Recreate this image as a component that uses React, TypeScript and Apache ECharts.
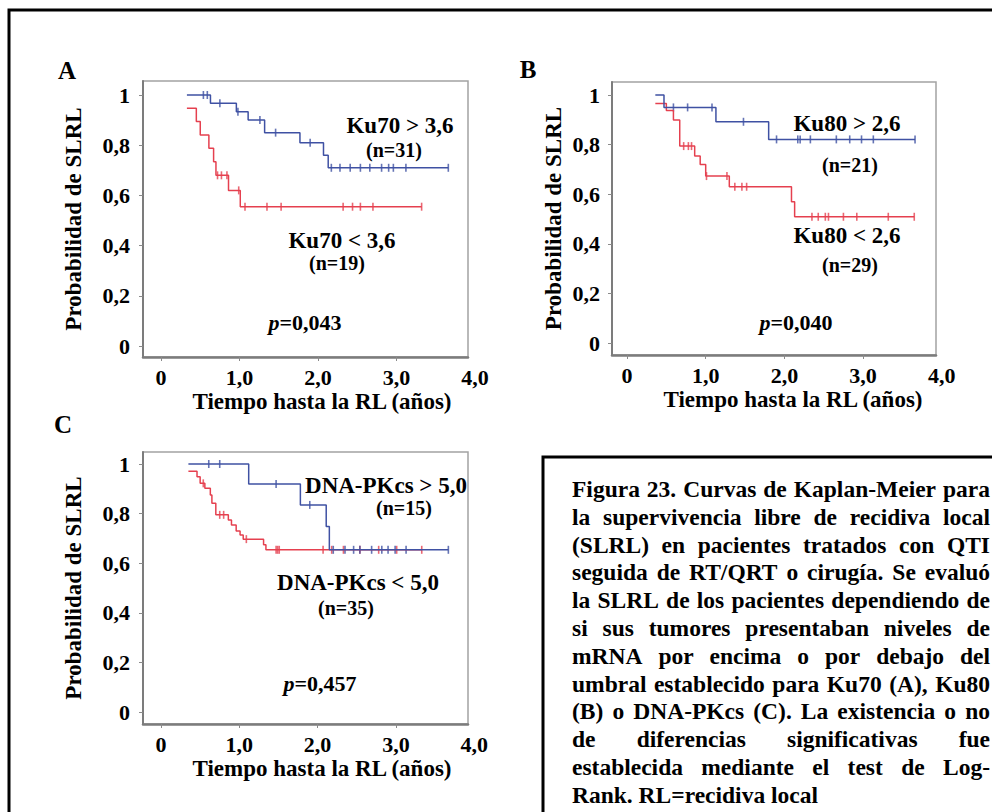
import React, { useEffect, useRef } from "react";
import * as echarts from "echarts";

const FONT = '"Liberation Serif", "Times New Roman", Times, serif';
const BLUE = "#3f51a3";
const RED = "#e5404f";

// ---------- DATA ----------
// Panel A – Ku70
const ku70HighSteps = [[0.33, 1.0], [0.63, 0.967], [0.96, 0.933], [1.11, 0.9], [1.32, 0.85], [1.77, 0.81], [2.07, 0.76], [2.13, 0.71], [3.66, 0.71]];
const ku70HighCensors = [0.54, 0.59, 0.75, 0.98, 1.26, 1.46, 1.9, 2.17, 2.28, 2.41, 2.54, 2.66, 2.81, 2.9, 2.96, 3.12, 3.66];
const ku70LowSteps = [[0.33, 0.947], [0.45, 0.894], [0.5, 0.841], [0.61, 0.788], [0.67, 0.734], [0.7, 0.68], [0.86, 0.62], [1.01, 0.555], [3.32, 0.555]];
const ku70LowCensors = [0.72, 0.77, 0.84, 0.99, 1.07, 1.35, 1.53, 2.32, 2.44, 2.54, 2.7, 3.32];

// Panel B – Ku80
const ku80HighSteps = [[0.36, 1.0], [0.47, 0.95], [1.13, 0.892], [1.8, 0.821], [3.66, 0.821]];
const ku80HighCensors = [0.59, 0.77, 1.08, 1.48, 1.9, 2.17, 2.2, 2.33, 2.66, 2.83, 2.98, 3.13, 3.66];
const ku80LowSteps = [[0.36, 0.966], [0.5, 0.937], [0.59, 0.899], [0.67, 0.794], [0.86, 0.754], [0.93, 0.72], [1.0, 0.673], [1.3, 0.63], [2.09, 0.57], [2.13, 0.509], [3.65, 0.509]];
const ku80LowCensors = [0.72, 0.78, 0.82, 1.01, 1.27, 1.37, 1.46, 1.52, 2.35, 2.43, 2.52, 2.56, 2.75, 2.92, 3.32, 3.65];

// Panel C – DNA-PKcs
const pkcsHighSteps = [[0.35, 1.0], [1.12, 0.919], [1.78, 0.835], [2.11, 0.748], [2.15, 0.654], [3.67, 0.654]];
const pkcsHighCensors = [0.61, 0.75, 1.47, 1.9, 2.2, 2.35, 2.46, 2.54, 2.69, 2.82, 2.9, 2.99, 3.13, 3.67];
const pkcsLowSteps = [[0.35, 0.971], [0.46, 0.949], [0.5, 0.922], [0.56, 0.902], [0.63, 0.875], [0.65, 0.842], [0.7, 0.795], [0.86, 0.774], [0.9, 0.754], [0.96, 0.73], [1.01, 0.714], [1.05, 0.697], [1.31, 0.674], [1.34, 0.654], [3.33, 0.654]];
const pkcsLowCensors = [0.54, 0.75, 0.8, 1.09, 1.47, 1.49, 1.51, 2.07, 2.18, 2.33, 2.54, 2.78, 3.01, 3.33];

const yTicks = [0, 0.2, 0.4, 0.6, 0.8, 1];
const yTickLabels = ["0", "0,2", "0,4", "0,6", "0,8", "1"];
const xTicks = [0, 1, 2, 3, 4];
const xTickLabels = ["0", "1,0", "2,0", "3,0", "4,0"];
const xFrameTicks = [0, 1, 2, 3];

const yAxisTitle = "Probabilidad de SLRL";
const xAxisTitle = "Tiempo hasta la RL (años)";

const captionLines = [
  "Figura 23. Curvas de Kaplan-Meier para",
  "la supervivencia libre de recidiva local",
  "(SLRL) en pacientes tratados con QTI",
  "seguida de RT/QRT o cirugía. Se evaluó",
  "la SLRL de los pacientes dependiendo de",
  "si sus tumores presentaban niveles de",
  "mRNA por encima o por debajo del",
  "umbral establecido para Ku70 (A), Ku80",
  "(B) o DNA-PKcs (C). La existencia o no",
  "de diferencias significativas fue",
  "establecida mediante el test de Log-",
  "Rank. RL=recidiva local",
];

// ---------- LAYOUT ----------
const panels = [
  {
    letter: "A", letterPos: [67, 70],
    left: 143, top: 81, width: 325, height: 276, x0: 161, ux: 78.5, y1: 95, y0: 346,
    nameCenterX: 322, yNameGap: 58, yLabelMargin: 13,
    hi: ku70HighSteps, hiC: ku70HighCensors, lo: ku70LowSteps, loC: ku70LowCensors,
    texts: [
      { t: "Ku70 > 3,6", x: 400, y: 125, s: 23 },
      { t: "(n=31)", x: 394, y: 150, s: 20 },
      { t: "Ku70 < 3,6", x: 342, y: 240, s: 23 },
      { t: "(n=19)", x: 337, y: 263, s: 20 },
    ],
    p: { v: "=0,043", x: 305, y: 322 },
  },
  {
    letter: "B", letterPos: [528, 69],
    left: 612, top: 82, width: 324, height: 273, x0: 627, ux: 78.7, y1: 95, y0: 343,
    nameCenterX: 793, yNameGap: 47, yLabelMargin: 12,
    hi: ku80HighSteps, hiC: ku80HighCensors, lo: ku80LowSteps, loC: ku80LowCensors,
    texts: [
      { t: "Ku80 > 2,6", x: 847, y: 123, s: 23 },
      { t: "(n=21)", x: 850, y: 165, s: 20 },
      { t: "Ku80 < 2,6", x: 847, y: 235, s: 23 },
      { t: "(n=29)", x: 850, y: 265, s: 20 },
    ],
    p: { v: "=0,040", x: 796, y: 322 },
  },
  {
    letter: "C", letterPos: [63, 424],
    left: 143, top: 452, width: 325, height: 272, x0: 161, ux: 78.3, y1: 464, y0: 712,
    nameCenterX: 322, yNameGap: 58, yLabelMargin: 13,
    hi: pkcsHighSteps, hiC: pkcsHighCensors, lo: pkcsLowSteps, loC: pkcsLowCensors,
    texts: [
      { t: "DNA-PKcs > 5,0", x: 386, y: 485, s: 23 },
      { t: "(n=15)", x: 404, y: 508, s: 20 },
      { t: "DNA-PKcs < 5,0", x: 358, y: 582, s: 23 },
      { t: "(n=35)", x: 346, y: 608, s: 20 },
    ],
    p: { v: "=0,457", x: 320, y: 683 },
  },
];

const CAP_SIZE = 23.5;
const CAP_LEFT = 572;
const CAP_RIGHT = 990;
const CAP_TOP = 489;
const CAP_LEAD = 27.8;

function valueAt(steps: number[][], t: number) {
  let v = steps[0][1];
  for (const [x, y] of steps) if (x <= t) v = y;
  return v;
}

function buildOption() {
  const grid: any[] = [];
  const xAxis: any[] = [];
  const yAxis: any[] = [];
  const series: any[] = [];
  const graphic: any[] = [];

  const labelStyle = { fontFamily: FONT, fontWeight: "bold", fontSize: 22, color: "#000" };

  panels.forEach((p, i) => {
    const xmin = (p.left - p.x0) / p.ux;
    const xmax = xmin + p.width / p.ux;
    const yUnit = p.y0 - p.y1;
    const ymax = (p.y0 - p.top) / yUnit;
    const ymin = ymax - p.height / yUnit;
    const wideW = 2 * (p.nameCenterX - p.left);
    const xmaxWide = xmin + wideW / p.ux;

    grid.push({ left: p.left, top: p.top, width: p.width, height: p.height, show: true, borderColor: "#a3a3a3", borderWidth: 1.5, containLabel: false });
    grid.push({ left: p.left, top: p.top, width: wideW, height: p.height, show: false, containLabel: false });

    xAxis.push({
      gridIndex: 2 * i, type: "value", min: xmin, max: xmax,
      axisLine: { show: true, onZero: false, lineStyle: { color: "#7c7c7c", width: 2.5 } },
      axisTick: { show: true, customValues: xFrameTicks, length: 4, lineStyle: { color: "#8a8a8a", width: 1 } },
      axisLabel: { show: false }, splitLine: { show: false },
    });
    xAxis.push({
      gridIndex: 2 * i + 1, type: "value", min: xmin, max: xmaxWide,
      axisLine: { show: false }, axisTick: { show: false }, splitLine: { show: false },
      axisLabel: {
        show: true, customValues: xTicks, margin: 9, ...labelStyle,
        formatter: (v: number) => xTickLabels[xTicks.indexOf(Math.round(v))] ?? "",
      },
      name: xAxisTitle, nameLocation: "middle", nameGap: 33,
      nameTextStyle: { fontFamily: FONT, fontWeight: "bold", fontSize: 23, color: "#000" },
    });

    yAxis.push({
      gridIndex: 2 * i, type: "value", min: ymin, max: ymax,
      axisLine: { show: true, onZero: false, lineStyle: { color: "#7c7c7c", width: 2 } },
      axisTick: { show: true, customValues: yTicks, length: 4, lineStyle: { color: "#8a8a8a", width: 1 } },
      axisLabel: {
        show: true, customValues: yTicks, margin: p.yLabelMargin, ...labelStyle,
        formatter: (v: number) => {
          const k = yTicks.findIndex((t) => Math.abs(t - v) < 1e-6);
          return k >= 0 ? yTickLabels[k] : "";
        },
      },
      splitLine: { show: false },
      name: yAxisTitle, nameLocation: "middle", nameRotate: 90, nameGap: p.yNameGap,
      nameTextStyle: { fontFamily: FONT, fontWeight: "bold", fontSize: 23, color: "#000" },
    });
    yAxis.push({ gridIndex: 2 * i + 1, type: "value", min: ymin, max: ymax, show: false });

    const curves = [
      { steps: p.lo, cens: p.loC, color: RED },
      { steps: p.hi, cens: p.hiC, color: BLUE },
    ];
    curves.forEach((c) => {
      series.push({
        type: "line", xAxisIndex: 2 * i, yAxisIndex: 2 * i, step: "end",
        data: c.steps, symbol: "none", showSymbol: false,
        lineStyle: { color: c.color, width: 1.5 }, silent: true,
      });
      series.push({
        type: "scatter", xAxisIndex: 2 * i, yAxisIndex: 2 * i,
        data: c.cens.map((t) => [t, valueAt(c.steps, t)]),
        symbol: "rect", symbolSize: [1.6, 8],
        itemStyle: { color: c.color }, silent: true,
      });
    });

    graphic.push({
      type: "text", x: p.letterPos[0], y: p.letterPos[1],
      style: { text: p.letter, fontFamily: FONT, fontWeight: "bold", fontSize: 25, fill: "#000", align: "center", verticalAlign: "middle" },
    });
    p.texts.forEach((t) => {
      graphic.push({
        type: "text", x: t.x, y: t.y,
        style: { text: t.t, fontFamily: FONT, fontWeight: "bold", fontSize: t.s, fill: "#000", align: "center", verticalAlign: "middle" },
      });
    });
    graphic.push({
      type: "text", x: p.p.x, y: p.p.y,
      style: {
        text: "{i|p}{b|" + p.p.v + "}", align: "center", verticalAlign: "middle",
        rich: {
          i: { fontFamily: FONT, fontWeight: "bold", fontStyle: "italic", fontSize: 22, fill: "#000" },
          b: { fontFamily: FONT, fontWeight: "bold", fontSize: 22, fill: "#000" },
        },
      },
    });
  });

  // outer frame and caption box
  graphic.push({ type: "rect", shape: { x: 9, y: 10, width: 1000, height: 900 }, style: { fill: "none", stroke: "#000", lineWidth: 3 } });
  graphic.push({ type: "rect", shape: { x: 543, y: 457, width: 500, height: 400 }, style: { fill: "none", stroke: "#000", lineWidth: 3 } });

  // justified caption
  const ctx = document.createElement("canvas").getContext("2d") as CanvasRenderingContext2D;
  ctx.font = `bold ${CAP_SIZE}px ${FONT}`;
  captionLines.forEach((line, i) => {
    const y = CAP_TOP + i * CAP_LEAD;
    const words = line.split(/\s+/);
    const base = { fontFamily: FONT, fontWeight: "bold", fontSize: CAP_SIZE, fill: "#000", align: "left", verticalAlign: "middle" };
    if (i === captionLines.length - 1 || words.length < 2) {
      graphic.push({ type: "text", x: CAP_LEFT, y, style: { ...base, text: line } });
      return;
    }
    const widths = words.map((w) => ctx.measureText(w).width);
    const total = widths.reduce((a, b) => a + b, 0);
    const gap = (CAP_RIGHT - CAP_LEFT - total) / (words.length - 1);
    let x = CAP_LEFT;
    words.forEach((w, j) => {
      graphic.push({ type: "text", x, y, style: { ...base, text: w } });
      x += widths[j] + gap;
    });
  });

  return { animation: false, grid, xAxis, yAxis, series, graphic };
}

export default function App() {
  const ref = useRef<HTMLDivElement>(null);
  useEffect(() => {
    if (!ref.current) return;
    const chart = echarts.init(ref.current, null, { renderer: "svg" });
    chart.setOption(buildOption() as any);
    return () => chart.dispose();
  }, []);
  return (
    <div
      ref={ref}
      style={{ position: "fixed", left: 0, top: 0, width: 992, height: 812, background: "#fff" }}
    />
  );
}
